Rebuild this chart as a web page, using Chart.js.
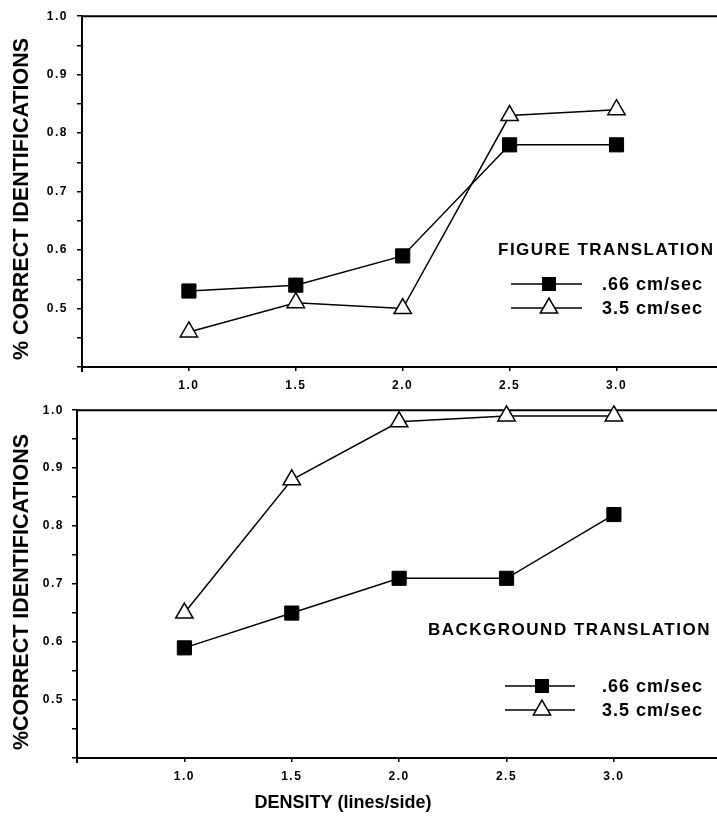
<!DOCTYPE html>
<html>
<head>
<meta charset="utf-8">
<script src="https://cdn.jsdelivr.net/npm/chart.js@4.4.1/dist/chart.umd.min.js"></script>
<style>
  body { margin: 0; background: #fff; }
  #wrap { position: relative; width: 717px; height: 825px; }
  canvas { position: absolute; left: 0; }
</style>
</head>
<body>
<div id="wrap">
  <canvas id="topChart" width="717" height="395" style="top:0"></canvas>
  <canvas id="bottomChart" width="717" height="430" style="top:395px"></canvas>
</div>
<script>
// Density (lines/side)
const density = [1.0, 1.5, 2.0, 2.5, 3.0];
const xTicks = [1.0, 1.5, 2.0, 2.5, 3.0];
const yTicks = [0.4, 0.45, 0.5, 0.55, 0.6, 0.65, 0.7, 0.75, 0.8, 0.85, 0.9, 0.95, 1.0];
const yLabelled = [0.5, 0.6, 0.7, 0.8, 0.9, 1.0];
const seriesNames = ['.66 cm/sec', '3.5 cm/sec'];

// Figure translation
const figSlow = [0.53, 0.54, 0.59, 0.78, 0.78];
const figFast = [0.46, 0.51, 0.50, 0.83, 0.84];

// Background translation
const bgSlow = [0.59, 0.65, 0.71, 0.71, 0.82];
const bgFast = [0.65, 0.88, 0.98, 0.99, 0.99];

const FONT = '"Liberation Sans", Arial, Helvetica, sans-serif';

function drawMarker(ctx, style, x, y) {
    ctx.save()
    ctx.lineWidth = 1.5
    ctx.strokeStyle = '#000'
    ctx.beginPath()
    if (style === 'rect') {
        ctx.fillStyle = '#000'
        ctx.rect(x - 7, y - 7, 14, 14)
        ctx.fill()
    } else {
        ctx.fillStyle = '#fff'
        ctx.moveTo(x, y - 10)
        ctx.lineTo(x + 8.66, y + 5)
        ctx.lineTo(x - 8.66, y + 5)
        ctx.closePath()
        ctx.fill()
        ctx.stroke()
    }
    ctx.restore()
}

function extras(p) {
    return {
        id: 'panelExtras',
        beforeDraw(chart) {
            // wider spacing for the tick labels (kept on the context)
            chart.ctx.letterSpacing = '1.5px'
        },
        beforeDatasetsDraw(chart) {
            // top frame line
            const ctx = chart.ctx, area = chart.chartArea
            ctx.save()
            ctx.strokeStyle = '#000'
            ctx.lineWidth = 2
            ctx.beginPath()
            ctx.moveTo(area.left - 1, area.top)
            ctx.lineTo(chart.width, area.top)
            ctx.stroke()
            // y axis runs a little past the x axis
            ctx.beginPath()
            ctx.moveTo(area.left, area.bottom)
            ctx.lineTo(area.left, area.bottom + 5)
            ctx.stroke()
            ctx.restore()
        },
        afterDraw(chart) {
            const ctx = chart.ctx
            ctx.save()
            ctx.fillStyle = '#000'
            ctx.textBaseline = 'middle'

            // y title
            ctx.save()
            ctx.letterSpacing = '0px'
            ctx.font = 'bold 21.5px ' + FONT
            ctx.translate(p.yTitleX, p.yTitleY)
            ctx.rotate(-Math.PI / 2)
            ctx.textAlign = 'center'
            ctx.fillText(p.yTitle, 0, 0)
            ctx.restore()

            // x title (only on lower panel)
            if (p.xTitle) {
                ctx.letterSpacing = '0px'
                ctx.font = 'bold 18px ' + FONT
                ctx.textAlign = 'center'
                ctx.fillText(p.xTitle, p.xTitleX, p.xTitleY)
            }

            // legend block
            ctx.textAlign = 'left'
            ctx.font = 'bold 17px ' + FONT
            ctx.letterSpacing = '1.5px'
            ctx.fillText(p.legendTitle, p.legendX, p.legendY)
            ctx.font = 'bold 18px ' + FONT
            ctx.letterSpacing = '1px'
            const styles = ['rect', 'triangle']
            seriesNames.forEach((name, i) => {
                let y = p.rows[i]
                ctx.strokeStyle = '#000'
                ctx.lineWidth = 1.5
                ctx.beginPath()
                ctx.moveTo(p.lineX0, y)
                ctx.lineTo(p.lineX1, y)
                ctx.stroke()
                drawMarker(ctx, styles[i], p.markX, y)
                ctx.fillText(name, p.textX, y + 1)
            })
            ctx.restore()
        }
    }
}

function makePanel(id, slow, fast, p) {
    const canvas = document.getElementById(id)
    const ctx = canvas.getContext('2d')
    const tickFont = { family: FONT, size: 12, weight: 'bold' }

    return new Chart(ctx, {
        type: 'line',
        data: {
            datasets: [
                {
                    label: seriesNames[0],
                    data: density.map((x, i) => ({ x: x, y: slow[i] })),
                    borderColor: '#000',
                    borderWidth: 1.5,
                    pointStyle: 'rect',
                    pointRadius: 10,
                    pointBackgroundColor: '#000',
                    pointBorderColor: '#000',
                    pointBorderWidth: 1,
                    clip: false
                },
                {
                    label: seriesNames[1],
                    data: density.map((x, i) => ({ x: x, y: fast[i] })),
                    borderColor: '#000',
                    borderWidth: 1.5,
                    pointStyle: 'triangle',
                    pointRadius: 10,
                    pointBackgroundColor: '#fff',
                    pointBorderColor: '#000',
                    pointBorderWidth: 1.5,
                    clip: false
                }
            ]
        },
        options: {
            responsive: false,
            animation: false,
            devicePixelRatio: 1,
            layout: { autoPadding: false, padding: { top: p.top, left: 0, right: 0, bottom: 0 } },
            plugins: { legend: { display: false }, tooltip: { enabled: false } },
            scales: {
                x: {
                    type: 'linear',
                    min: 0.5,
                    max: p.xMax,
                    afterFit(s) { s.height = canvas.height - p.bottom },
                    afterBuildTicks(s) { s.ticks = xTicks.map(v => ({ value: v })) },
                    grid: { drawOnChartArea: false, tickLength: 4, color: '#000', lineWidth: 1.5 },
                    border: { color: '#000', width: 2 },
                    ticks: {
                        padding: 7,
                        color: '#000',
                        font: tickFont,
                        callback: v => v.toFixed(1)
                    }
                },
                y: {
                    min: 0.4,
                    max: 1.0,
                    afterFit(s) { s.width = p.left },
                    afterBuildTicks(s) { s.ticks = yTicks.map(v => ({ value: v })) },
                    grid: { drawOnChartArea: false, tickLength: 5, color: '#000', lineWidth: 1.5 },
                    border: { color: '#000', width: 2 },
                    ticks: {
                        padding: p.yPad,
                        color: '#000',
                        font: tickFont,
                        callback: v => yLabelled.some(l => Math.abs(l - v) < 0.001) ? v.toFixed(1) : ''
                    }
                }
            }
        },
        plugins: [extras(p)]
    })
}

makePanel('topChart', figSlow, figFast, {
    top: 15, bottom: 367, left: 82, xMax: 3.47, yPad: 9,
    yTitle: '% CORRECT IDENTIFICATIONS', yTitleX: 22, yTitleY: 199,
    legendTitle: 'FIGURE TRANSLATION', legendX: 498, legendY: 250,
    rows: [284, 308], lineX0: 511, lineX1: 582, markX: 549, textX: 602
})

makePanel('bottomChart', bgSlow, bgFast, {
    top: 11, bottom: 363, left: 77, xMax: 3.48, yPad: 8,
    yTitle: '%CORRECT IDENTIFICATIONS', yTitleX: 22, yTitleY: 197,
    xTitle: 'DENSITY (lines/side)', xTitleX: 343, xTitleY: 408,
    legendTitle: 'BACKGROUND TRANSLATION', legendX: 428, legendY: 235,
    rows: [291, 315], lineX0: 505, lineX1: 575, markX: 542, textX: 602
})
</script>
</body>
</html>
